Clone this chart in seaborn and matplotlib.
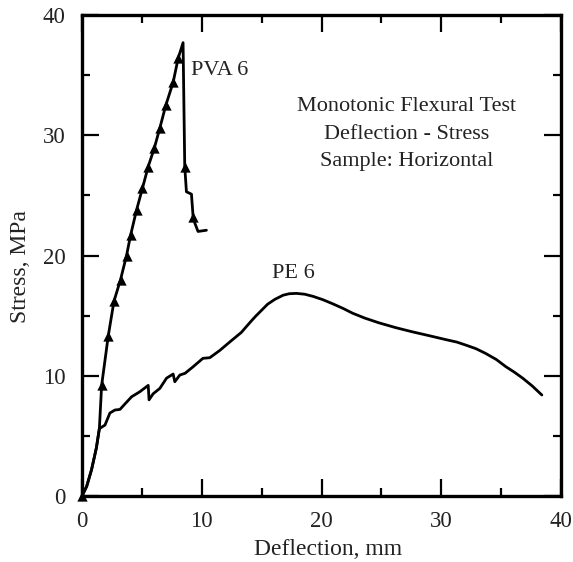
import numpy as np
import pandas as pd
import matplotlib
matplotlib.use("Agg")
import matplotlib.pyplot as plt
import seaborn as sns

# PVA 6 curve (deflection mm, stress MPa)
pva_x = [0, 0.39, 0.8, 1.2, 1.45, 1.64, 2.19, 2.67, 3.22, 3.72, 4.06, 4.56, 5.05, 5.53,
         6.03, 6.5, 7.0, 7.61, 8.03, 8.44, 8.58, 8.72, 9.14, 9.28, 9.42, 9.69, 10.39]
pva_y = [0, 0.8, 2.2, 4.0, 5.6, 9.2, 13.3, 16.2, 18.0, 20.0, 21.7, 23.8, 25.6, 27.4,
         28.9, 30.6, 32.5, 34.4, 36.4, 37.7, 27.4, 25.3, 25.1, 23.2, 22.7, 22.0, 22.1]
# triangle markers on the PVA curve
pva_mark_x = [0, 1.64, 2.19, 2.67, 3.22, 3.72, 4.06, 4.56, 5.05, 5.53, 6.03, 6.5, 7.0,
              7.61, 8.03, 8.58, 9.28]
pva_mark_y = [0, 9.2, 13.3, 16.2, 18.0, 20.0, 21.7, 23.8, 25.6, 27.4, 28.9, 30.6, 32.5,
              34.4, 36.4, 27.4, 23.2]

# PE 6 curve
pe_x = [0, 0.39, 0.8, 1.2, 1.45, 1.92, 2.33, 2.75, 3.17, 3.72, 4.14, 4.83, 5.53, 5.6,
        5.94, 6.5, 7.06, 7.61, 7.75, 8.17, 8.6, 9.28, 10.1, 10.67, 11.5, 12.33, 13.3,
        14.0, 14.5, 15.0, 15.5, 16.1, 16.8, 17.3, 17.9, 18.6, 19.3, 20.1, 20.9, 21.8,
        22.6, 23.6, 24.8, 26.2, 27.6, 29.0, 30.4, 31.3, 32.05, 32.9, 33.7, 34.6, 35.4,
        36.1, 36.8, 37.6, 38.4]
pe_y = [0, 0.8, 2.2, 4.0, 5.6, 5.9, 6.9, 7.15, 7.2, 7.8, 8.25, 8.67, 9.2, 8.0,
        8.5, 8.95, 9.8, 10.14, 9.5, 10.06, 10.2, 10.75, 11.45, 11.5, 12.1, 12.8, 13.6,
        14.4, 14.95, 15.45, 15.95, 16.35, 16.7, 16.82, 16.85, 16.78, 16.6, 16.33, 16.0,
        15.6, 15.2, 14.8, 14.4, 14.0, 13.65, 13.33, 13.0, 12.8, 12.55, 12.25, 11.86,
        11.35, 10.75, 10.3, 9.8, 9.15, 8.4]

x_ticks = [0, 10, 20, 30, 40]
y_ticks = [0, 10, 20, 30, 40]

sns.set_theme(style="ticks")
plt.rcParams['font.family'] = ['Liberation Serif', 'DejaVu Serif']

fig = plt.figure(figsize=(5.73, 5.62), dpi=100)
ax = fig.add_axes([82 / 573, 66 / 562, 479 / 573, 481 / 562])

pva = pd.DataFrame({"x": pva_x, "y": pva_y})
pe = pd.DataFrame({"x": pe_x, "y": pe_y})
marks = pd.DataFrame({"x": pva_mark_x, "y": pva_mark_y})

sns.lineplot(data=pe, x="x", y="y", sort=False, estimator=None, color="black",
             linewidth=2.0, ax=ax)
sns.lineplot(data=pva, x="x", y="y", sort=False, estimator=None, color="black",
             linewidth=2.0, ax=ax)
sns.scatterplot(data=marks, x="x", y="y", marker="^", color="black", s=55,
                edgecolor="black", linewidth=0, ax=ax, zorder=5, clip_on=False)

ax.set_xlim(0, 40)
ax.set_ylim(0, 40)
ax.set_xticks(x_ticks)
ax.set_yticks(y_ticks)
ax.set_xticks([5, 15, 25, 35], minor=True)
ax.set_yticks([5, 15, 25, 35], minor=True)
ax.set_xticklabels([str(v) for v in x_ticks])
ax.set_yticklabels([str(v) for v in y_ticks])

for s in ax.spines.values():
    s.set_visible(True)
    s.set_linewidth(2.4)
    s.set_color("black")

ax.tick_params(which="major", direction="in", length=12, width=1.6, color="black",
               top=True, right=True, labelsize=16.5, labelcolor="#222222")
ax.tick_params(axis="x", which="major", pad=11)
ax.tick_params(axis="y", which="major", pad=12)
ax.tick_params(which="minor", direction="in", length=6, width=1.6, color="black",
               top=True, right=True)

ax.set_xlabel("Deflection, mm", fontsize=17, color="#222222")
ax.set_ylabel("Stress, MPa", fontsize=17, color="#222222")
ax.xaxis.label.set_va("center")
ax.yaxis.label.set_va("center")
ax.xaxis.set_label_coords(0.514, -0.112)
ax.yaxis.set_label_coords(-0.128, 0.477)

ax.text(9.1, 35.4, "PVA 6", fontsize=16, ha="left", va="center", color="#222222")
ax.text(15.9, 18.5, "PE 6", fontsize=16, ha="left", va="center", color="#222222")
ax.text(27.1, 32.4, "Monotonic Flexural Test", fontsize=16, ha="center", va="center",
        color="#222222")
ax.text(27.1, 30.1, "Deflection - Stress", fontsize=16, ha="center", va="center",
        color="#222222")
ax.text(27.1, 27.8, "Sample: Horizontal", fontsize=16, ha="center", va="center",
        color="#222222")

fig.savefig("out.png", dpi=100)
